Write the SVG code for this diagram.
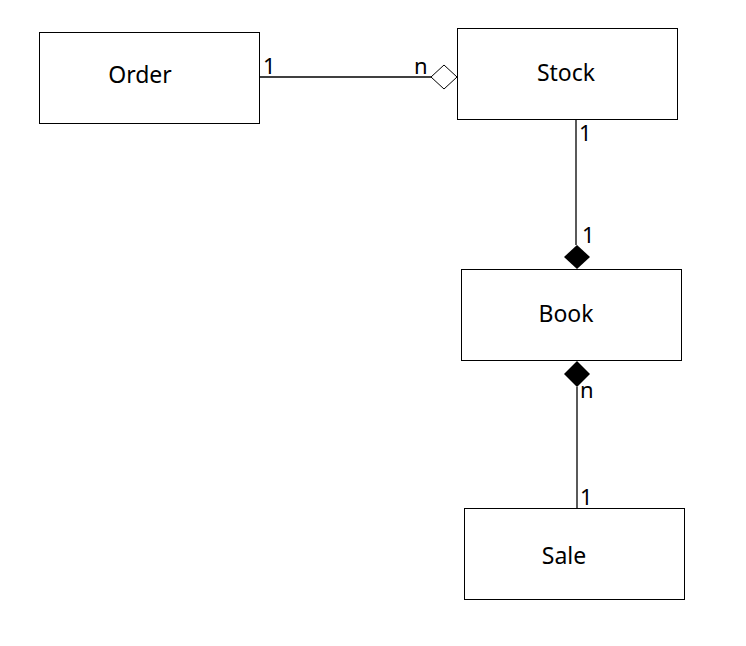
<svg xmlns="http://www.w3.org/2000/svg" width="746" height="646" viewBox="0 0 746 646">
<style>
.box{fill:#fff;stroke:#000;stroke-width:1}
.lbl{font-family:"Noto Sans","Open Sans",sans-serif;font-size:23px;fill:#000;text-anchor:middle}
.m{font-family:"Noto Sans","Open Sans",sans-serif;font-size:22px;fill:#000}
.ln{stroke:#000;stroke-width:1.3;fill:none}
</style>
<rect width="746" height="646" fill="#fff"/>
<g id="connectors">
<line class="ln" x1="259" y1="77" x2="431" y2="77"/>
<polygon points="431,77 444,65 457,77 444,89" fill="#fff" stroke="#000" stroke-width="1"/>
<line class="ln" x1="576" y1="119" x2="576" y2="245"/>
<polygon points="577,245 590,257 577,269 564,257" fill="#000"/>
<line class="ln" x1="577" y1="387" x2="577" y2="508"/>
<polygon points="577,361 590,374 577,387 564,374" fill="#000"/>
<text class="m" x="263" y="74">1</text>
<text class="m" x="414" y="74">n</text>
<text class="m" x="579" y="141">1</text>
<text class="m" x="582" y="243">1</text>
<text class="m" x="580" y="398">n</text>
<text class="m" x="580" y="505">1</text>
</g>
<g id="order"><rect class="box" x="39.5" y="32.5" width="220" height="91"/><text class="lbl" x="140" y="83">Order</text></g>
<g id="stock"><rect class="box" x="457.5" y="28.5" width="220" height="91"/><text class="lbl" x="566" y="81">Stock</text></g>
<g id="book"><rect class="box" x="461.5" y="269.5" width="220" height="91"/><text class="lbl" x="566" y="322">Book</text></g>
<g id="sale"><rect class="box" x="464.5" y="508.5" width="220" height="91"/><text class="lbl" x="564" y="564">Sale</text></g>
</svg>
